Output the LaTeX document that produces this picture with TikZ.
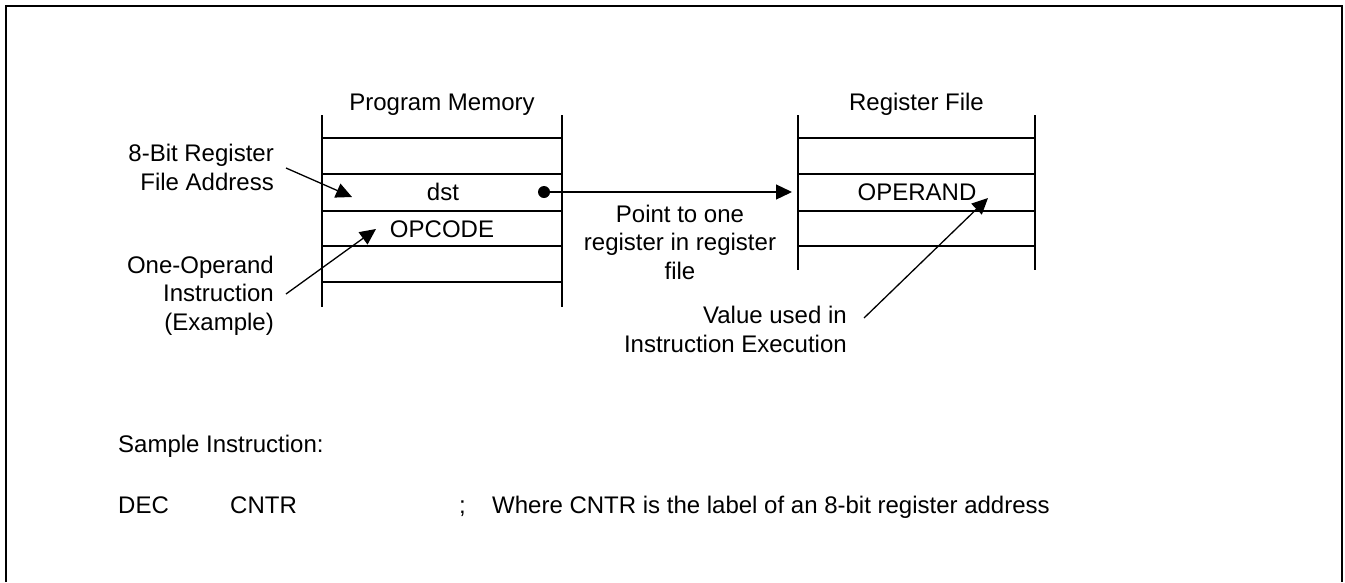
\documentclass[tikz,border=0pt]{standalone}
\usepackage{fontspec}
\setmainfont{Liberation Sans}
\usetikzlibrary{positioning, arrows.meta, calc}
\tikzset{
  >={Triangle[length=16pt, width=15pt]},
  lbl/.style={inner sep=0pt, font=\fontsize{24}{28.5}\selectfont},
  mem/.style={line width=1.3pt},
  pointer/.style={->, line width=1.3pt},
}

\begin{document}
\begin{tikzpicture}[x=1pt, y=-1pt]
  \useasboundingbox (0,0) rectangle (1345,582);
  \draw[line width=2pt] (6,582) -- (6,6) -- (1342,6) -- (1342,582);

  % program memory
  \draw[mem] (322,115) -- (322,307) (562,115) -- (562,307);
  \foreach \y in {138,174,211,246,282} \draw[mem] (322,\y) -- (562,\y);
  % register file
  \draw[mem] (798,115) -- (798,270) (1035,115) -- (1035,270);
  \foreach \y in {138,174,211,246} \draw[mem] (798,\y) -- (1035,\y);

  \node[lbl, anchor=base] (pmtitle) at (442,110) {Program Memory};
  \node[lbl, anchor=base] (rftitle) at (916.5,110) {Register File};
  \node[lbl, anchor=base] (dst) at (443,200) {dst};
  \node[lbl, anchor=base] (opcode) at (442,237) {OPCODE};
  \node[lbl, anchor=base] (operand) at (917,200) {OPERAND};

  % base of a multi-line node = its last line
  \node[lbl, anchor=base east, align=right] (addr) at (274,190) {8-Bit Register\\File Address};
  \node[lbl, anchor=base east, align=right] (oneop) at (274,330) {One-Operand\\Instruction\\(Example)};
  \node[lbl, anchor=base, align=center] (pointto) at (680,279) {Point to one\\register in register\\file};
  \node[lbl, anchor=base east, align=right] (value) at (847,352) {Value used in\\Instruction Execution};

  \node[lbl, anchor=base west] (sample) at (118,452) {Sample Instruction:};
  \node[lbl, anchor=base west] (dec) at (118,513) {DEC};
  \node[lbl, anchor=base west] (cntr) at (230,513) {CNTR};
  \node[lbl, anchor=base west] (semi) at (459,513) {;};
  \node[lbl, anchor=base west] (where) at (492,513) {Where CNTR is the label of an 8-bit register address};

  % pointers
  \coordinate (dot) at (544,192);
  \coordinate (rfin) at (792,192);
  \coordinate (addrfrom) at (286,168);
  \coordinate (addrtip) at (352,197);
  \coordinate (opfrom) at (286,294);
  \coordinate (optip) at (376,229);
  \coordinate (valfrom) at (864,318);
  \coordinate (valtip) at (988,198);
  \fill (dot) circle (6pt);
  \draw[pointer] (dot) -- (rfin);
  \draw[pointer] (addrfrom) -- (addrtip);
  \draw[pointer] (opfrom) -- (optip);
  \draw[pointer] (valfrom) -- (valtip);
\end{tikzpicture}
\end{document}
